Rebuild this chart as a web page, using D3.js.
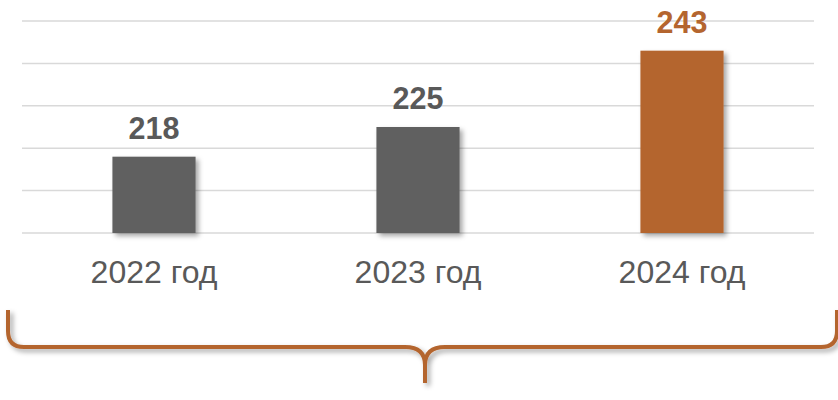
<!DOCTYPE html>
<html>
<head>
<meta charset="utf-8">
<script src="https://cdn.jsdelivr.net/npm/d3@7"></script>
<style>
  html, body { margin: 0; padding: 0; background: #fff; }
  svg { display: block; font-family: Arial, "Liberation Sans", sans-serif; }
</style>
</head>
<body>
<svg id="chart" width="838" height="400"></svg>
<script>
// chart data
const years = ["2022 год", "2023 год", "2024 год"];
const values = [218, 225, 243];
const gridTicks = [200, 210, 220, 230, 240, 250];
const highlightYear = "2024 год";

const svg = d3.select("#chart");
const grey = "#606060";
const brown = "#b4652f";
const textGrey = "#595959";

const x = d3.scaleBand()
    .domain(years)
    .range([22, 814])
    .paddingInner(0.685)
    .paddingOuter(0.3425);

const y = d3.scaleLinear()
    .domain([200, 250])
    .range([233, 21]);

// drop shadow filter for bars and the brace
const defs = svg.append("defs");
const shadow = defs.append("filter")
    .attr("id", "shadow")
    .attr("x", "-20%").attr("y", "-20%")
    .attr("width", "150%").attr("height", "150%");
shadow.append("feDropShadow")
    .attr("dx", 3).attr("dy", 3)
    .attr("stdDeviation", 2.5)
    .attr("flood-color", "#000")
    .attr("flood-opacity", 0.35);

// gridlines
svg.append("g")
    .selectAll("line")
    .data(gridTicks)
    .enter()
    .append("line")
    .attr("x1", 22)
    .attr("x2", 814)
    .attr("y1", d => y(d))
    .attr("y2", d => y(d))
    .attr("stroke", "#d9d9d9")
    .attr("stroke-width", 1.5);

const data = years.map((d, i) => ({ year: d, value: values[i] }));

// bars
svg.append("g")
    .selectAll("rect")
    .data(data)
    .enter()
    .append("rect")
    .attr("x", d => x(d.year))
    .attr("y", d => y(d.value))
    .attr("width", x.bandwidth())
    .attr("height", d => y(200) - y(d.value))
    .attr("fill", d => d.year === highlightYear ? brown : grey)
    .attr("filter", "url(#shadow)");

// value labels
svg.append("g")
    .selectAll("text")
    .data(data)
    .enter()
    .append("text")
    .attr("x", d => x(d.year) + x.bandwidth() / 2)
    .attr("y", d => y(d.value) - 18)
    .attr("text-anchor", "middle")
    .style("font-size", "30.5px")
    .style("font-weight", "bold")
    .style("fill", d => d.year === highlightYear ? brown : textGrey)
    .text(d => d.value);

// category labels
svg.append("g")
    .selectAll("text")
    .data(years)
    .enter()
    .append("text")
    .attr("x", d => x(d) + x.bandwidth() / 2)
    .attr("y", 283)
    .attr("text-anchor", "middle")
    .style("font-size", "32px")
    .style("fill", textGrey)
    .text(d => d);

// curly brace under the whole chart
const braceTop = 310, braceMid = 347, braceTip = 383;
const left = 8, right = 837, tipX = 425;
const bracePath = `M${left},${braceTop} V${braceMid - 16} Q${left},${braceMid} ${left + 16},${braceMid}
  H${tipX - 20} Q${tipX},${braceMid} ${tipX},${braceTip - 18} V${braceTip}
  M${tipX},${braceTip - 18} Q${tipX},${braceMid} ${tipX + 20},${braceMid}
  H${right - 16} Q${right},${braceMid} ${right},${braceMid - 16} V${braceTop}`;

svg.append("path")
    .attr("d", bracePath)
    .attr("fill", "none")
    .attr("stroke", brown)
    .attr("stroke-width", 4)
    .attr("filter", "url(#shadow)");
</script>
</body>
</html>
